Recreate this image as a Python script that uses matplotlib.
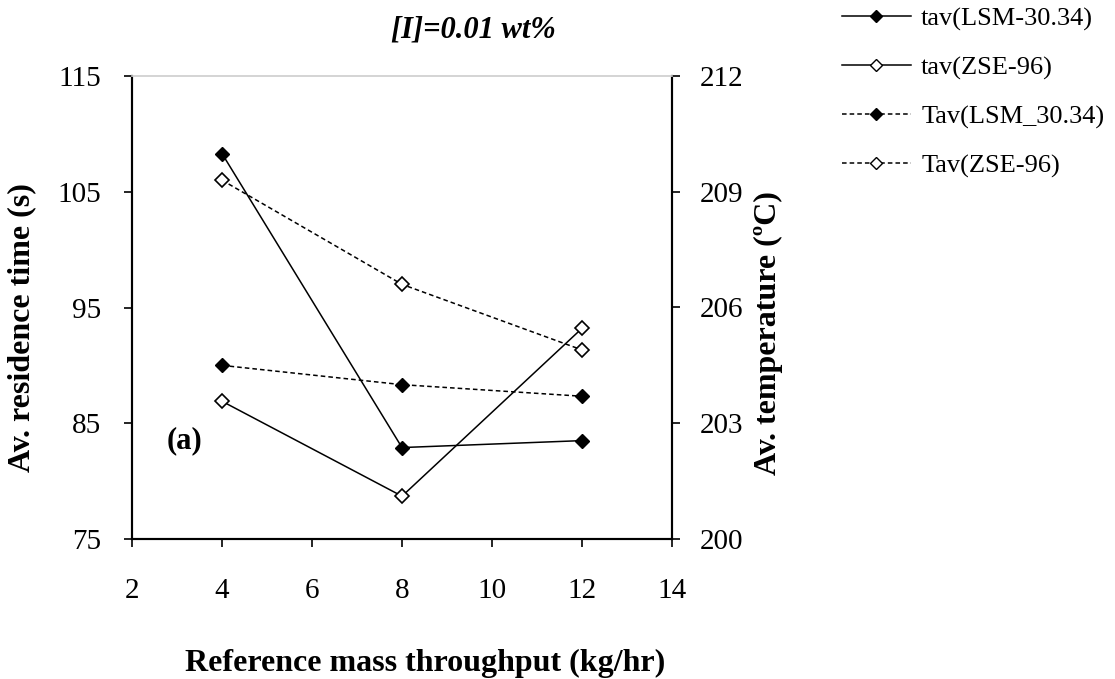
import matplotlib
matplotlib.use('Agg')
import matplotlib.pyplot as plt
from matplotlib.lines import Line2D

plt.rcParams['font.family'] = ['Liberation Serif', 'DejaVu Serif']

throughput = [4, 8, 12]
tav_lsm = [108.3, 82.9, 83.5]
tav_zse = [86.9, 78.7, 93.2]
Tav_lsm = [204.5, 204.0, 203.7]
Tav_zse = [209.3, 206.6, 204.9]

labels = ['tav(LSM-30.34)', 'tav(ZSE-96)', 'Tav(LSM_30.34)', 'Tav(ZSE-96)']

W, H = 1115, 679
fig = plt.figure(figsize=(W / 100, H / 100), dpi=100)
# axes box in pixels: left 132, right 672, top 76, bottom 539
ax = fig.add_axes([132 / W, 1 - 539 / H, 540 / W, 463 / H])
ax2 = ax.twinx()

ms = 7
dash = (3, 2)
ax.plot(throughput, tav_lsm, '-', color='black', lw=1.1, marker='D',
        mfc='black', mec='black', ms=ms)
ax.plot(throughput, tav_zse, '-', color='black', lw=1.1, marker='D',
        mfc='white', mec='black', ms=ms, mew=1.2)
ax2.plot(throughput, Tav_lsm, '--', color='black', lw=1.1, marker='D',
         mfc='black', mec='black', ms=ms, dashes=dash)
ax2.plot(throughput, Tav_zse, '--', color='black', lw=1.1, marker='D',
         mfc='white', mec='black', ms=ms, mew=1.2, dashes=dash)

ax.set_xlim(2, 14)
ax.set_ylim(75, 115)
ax2.set_ylim(200, 212)
ax.set_xticks(range(2, 15, 2))
ax.set_yticks(range(75, 116, 10))
ax2.set_yticks(range(200, 213, 3))

for a in (ax, ax2):
    a.tick_params(labelsize=21, direction='out', length=6, width=1.2)
    for s in a.spines.values():
        s.set_linewidth(1.5)
    a.spines['top'].set_color('#d4d4d4')
    a.spines['top'].set_linewidth(1.2)
ax.tick_params(axis='x', pad=22)
ax.tick_params(axis='y', pad=16)
ax2.tick_params(axis='y', pad=14)

lab = dict(fontsize=23, fontweight='bold')
fig.text(425 / W, 1 - 671 / H, 'Reference mass throughput (kg/hr)', ha='center', va='baseline', **lab)
fig.text(22 / W, 1 - 328 / H, 'Av. residence time (s)', rotation=90, ha='center', va='center', **lab)
fig.text(768 / W, 1 - 333 / H, 'Av. temperature (ºC)', rotation=90, ha='center', va='center', **lab)
fig.text(473 / W, 1 - 38 / H, '[I]=0.01 wt%', fontsize=22, fontweight='bold', style='italic',
         ha='center', va='baseline')

ax.text(2.76, 83.5, '(a)', fontsize=22, fontweight='bold', va='center', ha='left')

handles = [
    Line2D([], [], color='black', ls='-', lw=1.1, marker='D', mfc='black', mec='black', ms=6),
    Line2D([], [], color='black', ls='-', lw=1.1, marker='D', mfc='white', mec='black', ms=6),
    Line2D([], [], color='black', ls='--', lw=1.1, marker='D', mfc='black', mec='black', ms=6, dashes=dash),
    Line2D([], [], color='black', ls='--', lw=1.1, marker='D', mfc='white', mec='black', ms=6, dashes=dash),
]
fig.legend(handles, labels, loc='upper left', bbox_to_anchor=(842 / W, 1 - 7 / H), frameon=False,
           fontsize=19, handlelength=2.6, labelspacing=0.95, handletextpad=0.4,
           borderpad=0, borderaxespad=0)

fig.savefig('out.png', dpi=100)
